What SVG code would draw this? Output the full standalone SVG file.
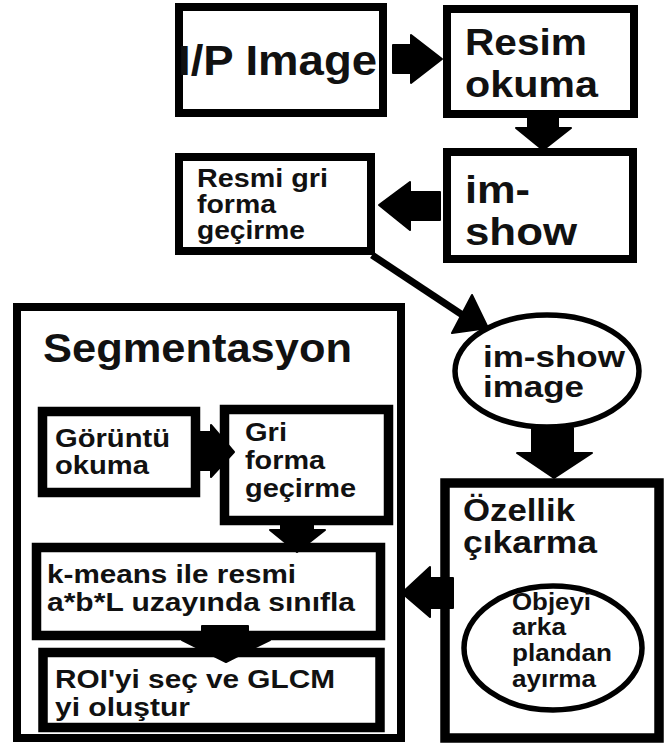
<svg xmlns="http://www.w3.org/2000/svg" width="664" height="743" viewBox="0 0 664 743">
<style>
.box{fill:#fff;stroke:#000;stroke-width:8}
.thk{stroke-width:9.5}
.ell{fill:#fff;stroke:#000;stroke-width:5.5}
.t{font-family:"Liberation Sans",Arial,sans-serif;font-weight:bold;fill:#111}
.arr{fill:#000;stroke:#000;stroke-width:2;stroke-linejoin:round}
</style>
<rect width="664" height="743" fill="#fff"/>
<g id="ip-image">
<rect class="box" x="179" y="7" width="204" height="106"/>
<text class="t" x="178" y="75" font-size="42" textLength="199" lengthAdjust="spacingAndGlyphs">I/P Image</text>
</g>
<g id="resim-okuma">
<rect class="box" x="447" y="9" width="187" height="105"/>
<text class="t" x="465" y="55" font-size="37" textLength="122" lengthAdjust="spacingAndGlyphs">Resim</text>
<text class="t" x="465" y="97" font-size="37" textLength="133" lengthAdjust="spacingAndGlyphs">okuma</text>
</g>
<g id="im-show">
<rect class="box" x="447" y="152" width="186" height="107"/>
<text class="t" x="465" y="203" font-size="39" textLength="65" lengthAdjust="spacingAndGlyphs">im-</text>
<text class="t" x="465" y="245" font-size="39" textLength="112" lengthAdjust="spacingAndGlyphs">show</text>
</g>
<g id="resmi-gri">
<rect class="box" x="179" y="157" width="192" height="94"/>
<text class="t" x="197" y="187" font-size="25" textLength="131" lengthAdjust="spacingAndGlyphs">Resmi gri</text>
<text class="t" x="197" y="213" font-size="25" textLength="79" lengthAdjust="spacingAndGlyphs">forma</text>
<text class="t" x="197" y="239" font-size="25" textLength="108" lengthAdjust="spacingAndGlyphs">geçirme</text>
</g>
<g id="im-show-image">
<ellipse class="ell" cx="547" cy="371" rx="92" ry="56"/>
<text class="t" x="483" y="367" font-size="29" textLength="142" lengthAdjust="spacingAndGlyphs">im-show</text>
<text class="t" x="483" y="397" font-size="29" textLength="101" lengthAdjust="spacingAndGlyphs">image</text>
</g>
<g id="segmentasyon">
<rect class="box" x="17" y="307" width="384" height="431"/>
<text class="t" x="43" y="362" font-size="41" textLength="309" lengthAdjust="spacingAndGlyphs">Segmentasyon</text>
</g>
<g id="goruntu-okuma">
<rect class="box thk" x="42.5" y="411.5" width="153" height="81"/>
<text class="t" x="55" y="447" font-size="26" textLength="115" lengthAdjust="spacingAndGlyphs">Görüntü</text>
<text class="t" x="55" y="474" font-size="26" textLength="94" lengthAdjust="spacingAndGlyphs">okuma</text>
</g>
<g id="gri-forma">
<rect class="box thk" x="224.5" y="409.5" width="164" height="111"/>
<text class="t" x="245" y="441" font-size="26" textLength="42" lengthAdjust="spacingAndGlyphs">Gri</text>
<text class="t" x="245" y="469" font-size="26" textLength="80" lengthAdjust="spacingAndGlyphs">forma</text>
<text class="t" x="245" y="497" font-size="26" textLength="111" lengthAdjust="spacingAndGlyphs">geçirme</text>
</g>
<g id="k-means">
<rect class="box thk" x="36.5" y="547.5" width="344" height="88"/>
<text class="t" x="47" y="583" font-size="26" textLength="249" lengthAdjust="spacingAndGlyphs">k-means ile resmi</text>
<text class="t" x="47" y="611" font-size="26" textLength="308" lengthAdjust="spacingAndGlyphs">a*b*L uzayında sınıfla</text>
</g>
<g id="roi-glcm">
<rect class="box thk" x="43" y="652.5" width="337" height="75"/>
<text class="t" x="55" y="688" font-size="25" textLength="280" lengthAdjust="spacingAndGlyphs">ROI'yi seç ve GLCM</text>
<text class="t" x="55" y="716" font-size="25" textLength="135" lengthAdjust="spacingAndGlyphs">yi oluştur</text>
</g>
<g id="ozellik">
<rect class="box thk" x="445" y="483" width="214" height="255"/>
<text class="t" x="463" y="521" font-size="31" textLength="112" lengthAdjust="spacingAndGlyphs">Özellik</text>
<text class="t" x="463" y="553" font-size="31" textLength="134" lengthAdjust="spacingAndGlyphs">çıkarma</text>
</g>
<g id="objeyi">
<ellipse class="ell" cx="553" cy="648" rx="89" ry="62"/>
<text class="t" x="512" y="610" font-size="23" textLength="79" lengthAdjust="spacingAndGlyphs">Objeyi</text>
<text class="t" x="512" y="635" font-size="23" textLength="54" lengthAdjust="spacingAndGlyphs">arka</text>
<text class="t" x="512" y="661" font-size="23" textLength="100" lengthAdjust="spacingAndGlyphs">plandan</text>
<text class="t" x="512" y="687" font-size="23" textLength="84" lengthAdjust="spacingAndGlyphs">ayırma</text>
</g>
<g id="connectors">
<polygon class="arr" points="393,45 411,45 411,35 442,59 411,83 411,73 393,73"/>
<polygon class="arr" points="528,117 558,117 558,128 571,128 543,150 516,128 528,128"/>
<polygon class="arr" points="440,192 410,192 410,182 379,205 410,230 410,220 440,220"/>
<line x1="372" y1="255" x2="464" y2="316" stroke="#000" stroke-width="7"/>
<polygon class="arr" points="472,295 488,328 452,333"/>
<polygon class="arr" points="532,428 573,428 573,453 592,453 554,478 517,453 532,453"/>
<polygon class="arr" points="196,432 211,432 211,425 234,452 211,477 211,470 196,470"/>
<polygon class="arr" points="281,521 313,521 313,530 325,530 297,552 270,530 281,530"/>
<polygon class="arr" points="453,578 430,578 430,567 402,593 430,617 430,608 453,608"/>
<polygon class="arr" points="202,626 248,626 248,640 270,640 226,662 182,640 202,640"/>
</g>
</svg>
